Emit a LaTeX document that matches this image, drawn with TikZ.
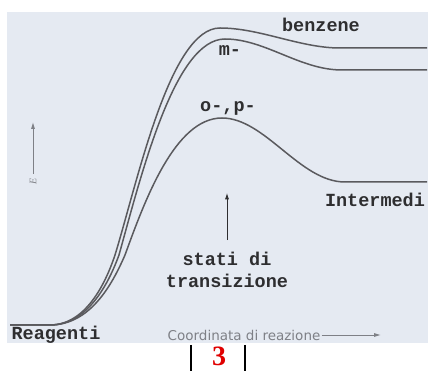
\documentclass[tikz,border=0pt]{standalone}
\usepackage{fontspec}
\usepackage{tikz}
\usetikzlibrary{arrows.meta}
\setmainfont{Liberation Serif}
\newfontfamily\typefont{Liberation Mono}
\newfontfamily\axisfont{DejaVu Sans}
\definecolor{panelbg}{HTML}{E5EAF2}
\definecolor{curvegray}{HTML}{5A5A5E}
\definecolor{inkgray}{HTML}{2E2E30}
\definecolor{axisgray}{HTML}{7E8086}
\definecolor{pagered}{HTML}{E00000}
\tikzset{
  profile/.style = {draw=curvegray, line width=1.5pt, line join=round},
  tlabel/.style  = {font=\typefont\bfseries\fontsize{18.5}{22}\selectfont,
                    text=inkgray, inner sep=1pt, align=center},
  flow/.style    = {-{Latex[length=2.2mm, width=1.4mm]}, line width=0.8pt, draw=inkgray},
  axflow/.style  = {-{Latex[length=2.4mm, width=1.4mm]}, line width=0.9pt, draw=axisgray},
  bar/.style     = {line width=1.4pt, black},
}

\begin{document}
\begin{tikzpicture}[x=1pt, y=-1pt]
    \useasboundingbox (0,0) rectangle (432,371);
    \fill[panelbg] (7,12) rectangle (428,343);

    % energy profiles
    \draw[profile] (10,325) -- (50,325) .. controls (85,325) and (105,285) .. (115,255)
      .. controls (138,180) and (170,28) .. (220,28)
      .. controls (260,28) and (300,48) .. (340,48) -- (427,48);
    \draw[profile] (10,325) -- (50,325) .. controls (87,325) and (108,285) .. (119,255)
      .. controls (142,172) and (175,39) .. (225,39)
      .. controls (265,39) and (300,70) .. (342,70) -- (427,70);
    \draw[profile] (10,325) -- (50,325) .. controls (90,325) and (112,285) .. (125,255)
      .. controls (145,200) and (175,118) .. (222,118)
      .. controls (265,118) and (300,182) .. (345,182) -- (427,182);

    % labels
    \node[tlabel] (benz)  at (321,25)  {benzene};
    \node[tlabel] (meta)  at (230,51)  {m-};
    \node[tlabel] (ortho) at (228,108) {o-,p-};
    \node[tlabel] (inter) at (375,200) {Intermedi};
    \node[tlabel] (reag)  at (56,335)  {Reagenti};
    \node[tlabel] (ts)    at (227,270) {stati di\\transizione};
    \coordinate (tstip) at (227,193);
    \draw[flow, shorten <=11pt] (ts.north) -- (tstip);

    % axes
    \node[font=\itshape\fontsize{10}{11}\selectfont, text=axisgray, rotate=90, inner sep=1pt]
      (elbl) at (33,181) {E};
    \coordinate (etip) at (33,122);
    \draw[axflow, shorten <=3pt] (elbl.east) -- (etip);
    \node[font=\axisfont\fontsize{13.5}{15}\selectfont, text=axisgray, inner sep=1pt]
      (coord) at (244,335) {Coordinata di reazione};
    \coordinate (ctip) at (381,335);
    \draw[axflow] (coord.east) -- (ctip);

    % page number
    \node[font=\bfseries\fontsize{28}{30}\selectfont, text=pagered, inner sep=0pt]
      (pnum) at (219,356) {3};
    \coordinate (barla) at (191,345);
    \coordinate (barlb) at (191,371);
    \coordinate (barra) at (245,345);
    \coordinate (barrb) at (245,371);
    \draw[bar] (barla) -- (barlb);
    \draw[bar] (barra) -- (barrb);
\end{tikzpicture}
\end{document}
